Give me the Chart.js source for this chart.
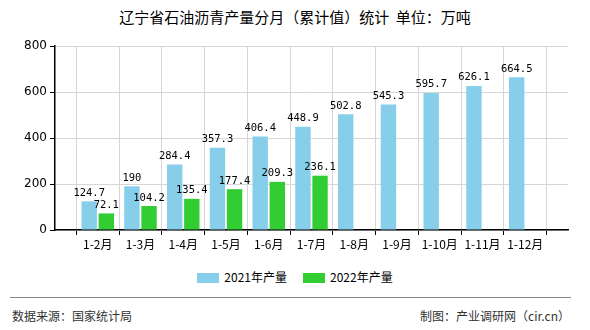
<!DOCTYPE html>
<html>
<head>
<meta charset="utf-8">
<script src="https://cdn.jsdelivr.net/npm/chart.js@4/dist/chart.umd.min.js"></script>
<style>
  body { margin: 0; background: #fff; }
  #wrap { position: relative; width: 590px; height: 330px; font-family: "Noto Sans CJK SC", sans-serif; }
  #title { position: absolute; left: 0; top: 6px; width: 590px; text-align: center; font-size: 15px; line-height: 22px; color: #000; }
  #chartBox { position: absolute; left: 0; top: 0; width: 590px; height: 253px; }
  #legend { position: absolute; left: 0; top: 268px; width: 590px; text-align: center; font-size: 12px; line-height: 18px; color: #000; }
  #legend span.item { display: inline-block; margin: 0 8px; }
  #legend i { display: inline-block; width: 22px; height: 10px; vertical-align: -1px; margin-right: 5px; }
  #line { position: absolute; left: 10px; top: 297px; width: 561px; height: 1px; background: #888; }
  .foot { position: absolute; top: 307px; font-size: 12px; line-height: 18px; color: #333; }
</style>
</head>
<body>
<div id="wrap">
  <div id="title">辽宁省石油沥青产量分月（累计值）统计&nbsp;&nbsp;单位：万吨</div>
  <div id="chartBox"><canvas id="chart"></canvas></div>
  <div id="legend"></div>
  <div id="line"></div>
  <div class="foot" style="left:12px">数据来源：国家统计局</div>
  <div class="foot" style="right:20px">制图：产业调研网（cir.cn）</div>
</div>
<script>
const months = ['1-2月', '1-3月', '1-4月', '1-5月', '1-6月', '1-7月', '1-8月', '1-9月', '1-10月', '1-11月', '1-12月'];
const output2021 = [124.7, 190, 284.4, 357.3, 406.4, 448.9, 502.8, 545.3, 595.7, 626.1, 664.5];
const output2022 = [72.1, 104.2, 135.4, 177.4, 209.3, 236.1, null, null, null, null, null];
const yTicks = [0, 200, 400, 600, 800];

const seriesNames = ['2021年产量', '2022年产量'];
const colors = ['#87CEEB', '#32CD32'];

// 両端に空のカテゴリを置いて、グリッド線が各カテゴリの中央を通るようにする
const labels = [''].concat(months, ['']);
const pad = arr => [null].concat(arr, [null]);

// バーの上に数値を描く
const valueLabels = {
  id: 'valueLabels',
  afterDatasetsDraw(chart) {
    const ctx = chart.ctx;
    ctx.save();
    ctx.font = '10.5px "DejaVu Sans Mono", monospace';
    ctx.fillStyle = '#000';
    ctx.textAlign = 'center';
    ctx.textBaseline = 'bottom';
    chart.data.datasets.forEach((ds, i) => {
      chart.getDatasetMeta(i).data.forEach((bar, j) => {
        const v = ds.data[j];
        if (v == null) return;
        ctx.fillText(String(v), bar.x, bar.y - 3);
      });
    });
    ctx.restore();
  },
};

function drawBarChart(id) {
  const ctx = document.getElementById(id);
  new Chart(ctx, {
    type: 'bar',
    data: {
      labels: labels,
      datasets: [
        { label: seriesNames[0], data: pad(output2021), backgroundColor: colors[0] },
        { label: seriesNames[1], data: pad(output2022), backgroundColor: colors[1] },
      ],
    },
    options: {
      responsive: true,
      maintainAspectRatio: false,
      animation: false,
      layout: { padding: { left: 0, right: 22, top: 46, bottom: 0 } },
      plugins: {
        legend: { display: false },
        title: { display: false },
        tooltip: { enabled: false },
      },
      scales: {
        x: {
          offset: false,
          categoryPercentage: 0.82,
          barPercentage: 1,
          grid: { color: '#d6d6d6', tickColor: '#000', tickLength: 5 },
          border: { color: '#000', width: 1.5 },
          ticks: {
            color: '#000',
            font: { family: '"Noto Sans CJK SC", sans-serif', size: 12 },
            maxRotation: 0,
            autoSkip: false,
            padding: 2,
          },
          afterFit: scale => { scale.height = 23; },
        },
        y: {
          min: 0,
          max: 800,
          afterBuildTicks: scale => { scale.ticks = yTicks.map(v => ({ value: v })); },
          grid: { color: '#d6d6d6', tickColor: '#000', tickLength: 5 },
          border: { color: '#000', width: 1.5 },
          ticks: {
            color: '#000',
            font: { family: '"DejaVu Sans", sans-serif', size: 12 },
            padding: 3,
          },
          afterFit: scale => { scale.width = 55; },
        },
      },
    },
    plugins: [valueLabels],
  });
}

function drawLegend() {
  const el = document.getElementById('legend');
  el.innerHTML = seriesNames
    .map((n, i) => '<span class="item"><i style="background:' + colors[i] + '"></i>' + n + '</span>')
    .join('');
}

drawBarChart('chart');
drawLegend();
</script>
</body>
</html>
